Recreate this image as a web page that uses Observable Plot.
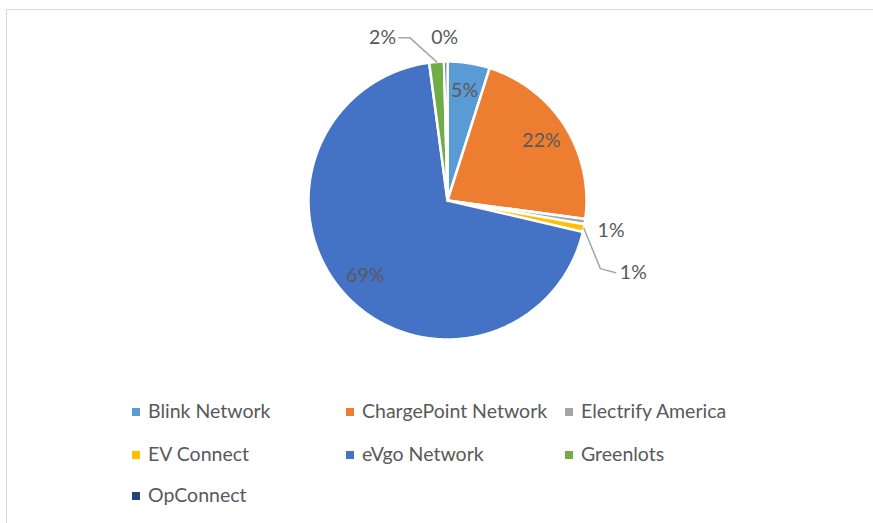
<!DOCTYPE html>
<html><head><meta charset="utf-8">
<script src="https://cdn.jsdelivr.net/npm/d3@7"></script>
<script src="https://cdn.jsdelivr.net/npm/@observablehq/plot@0.6"></script>
<style>
body{margin:0;background:#fff;width:873px;height:523px;overflow:hidden;position:relative;font-family:Lato,"Open Sans",sans-serif;}
#frame{position:absolute;left:6px;top:9px;width:900px;height:600px;border:1.5px solid #d9d9d9;box-sizing:border-box;}
#chart{position:absolute;left:0;top:0;}
.leg{position:absolute;font-size:19.5px;color:#595959;white-space:nowrap;line-height:20px;}
.leg span.sw{display:inline-block;width:8px;height:8px;margin-right:8px;vertical-align:middle;position:relative;top:-1px;}
</style></head>
<body>
<div id="frame"></div>
<div id="chart"></div>
<div id="legend"></div>
<script>
const networks = ["Blink Network","ChargePoint Network","Electrify America","EV Connect","eVgo Network","Greenlots","OpConnect"];
const shares = [4.9, 22.2, 0.6, 0.9, 69.2, 1.7, 0.4];
const labels = ["5%","22%","1%","1%","69%","2%","0%"];
const colors = ["#5B9BD5","#ED7D31","#A5A5A5","#FFC000","#4472C4","#70AD47","#264478"];

// callout layout for outside labels (data units of the pie, radius = 1)
const callouts = {
  "Electrify America": {lx: 1.08, ly: -0.22, anchor: "start", leader: null},
  "EV Connect": {lx: 1.24, ly: -0.52, anchor: "start", leader: [[1.10,-0.49],[1.21,-0.52]]},
  "Greenlots": {lx: -0.37, ly: 1.17, anchor: "end", leader: [[-0.27,1.17],[-0.35,1.17]]},
  "OpConnect": {lx: -0.02, ly: 1.17, anchor: "middle", leader: null}
};

const rows = networks.map((n,i)=>({name:n, share:shares[i], label:labels[i], color:colors[i]}));
const arcs = d3.pie().sort(null).value(d=>d.share)(rows);

const slicePts = [];
arcs.forEach(a=>{
  const n = a.data.name;
  slicePts.push({name:n, x:0, y:0});
  const steps = Math.max(2, Math.ceil((a.endAngle-a.startAngle)/(Math.PI/360)));
  for(let k=0;k<=steps;k++){
    const t = a.startAngle + (a.endAngle-a.startAngle)*k/steps;
    slicePts.push({name:n, x:Math.sin(t), y:Math.cos(t)});
  }
});

const textPts = arcs.map(a=>{
  const n = a.data.name, mid=(a.startAngle+a.endAngle)/2;
  const c = callouts[n];
  if(c) return {name:n, label:a.data.label, x:c.lx, y:c.ly, anchor:c.anchor};
  return {name:n, label:a.data.label, x:0.8*Math.sin(mid), y:0.8*Math.cos(mid), anchor:"middle"};
});

const leaderPts = [];
arcs.forEach(a=>{
  const c = callouts[a.data.name];
  if(c && c.leader){
    const mid=(a.startAngle+a.endAngle)/2;
    leaderPts.push({name:a.data.name, x:Math.sin(mid), y:Math.cos(mid)});
    c.leader.forEach(p=>leaderPts.push({name:a.data.name, x:p[0], y:p[1]}));
  }
});

const chart = Plot.plot({
  width: 873, height: 523, margin: 0,
  x: {domain:[-1,1], range:[308,586], axis:null},
  y: {domain:[-1,1], range:[339,61], axis:null},
  color: {domain: networks, range: colors},
  style: {background:"transparent", fontFamily:"Lato, 'Open Sans', sans-serif"},
  marks: [
    Plot.line(slicePts, {x:"x", y:"y", z:"name", fill:"name", stroke:"white", strokeWidth:2.5, curve:"linear-closed"}),
    Plot.line(leaderPts, {x:"x", y:"y", z:"name", stroke:"#A6A6A6", strokeWidth:1.5}),
    Plot.text(textPts.filter(d=>d.anchor==="middle"), {x:"x", y:"y", text:"label", fill:"#595959", fontSize:19.5, textAnchor:"middle"}),
    Plot.text(textPts.filter(d=>d.anchor==="start"), {x:"x", y:"y", text:"label", fill:"#595959", fontSize:19.5, textAnchor:"start"}),
    Plot.text(textPts.filter(d=>d.anchor==="end"), {x:"x", y:"y", text:"label", fill:"#595959", fontSize:19.5, textAnchor:"end"})
  ]
});
document.getElementById("chart").appendChild(chart);

// legend: 3 columns
const colX = [132, 346, 565], rowY = [401, 444, 485];
const leg = document.getElementById("legend");
networks.forEach((n,i)=>{
  const d = document.createElement("div");
  d.className="leg";
  d.style.left = colX[i%3]+"px";
  d.style.top = rowY[Math.floor(i/3)]+"px";
  d.innerHTML = `<span class="sw" style="background:${colors[i]}"></span>${n}`;
  leg.appendChild(d);
});
</script>
</body></html>
